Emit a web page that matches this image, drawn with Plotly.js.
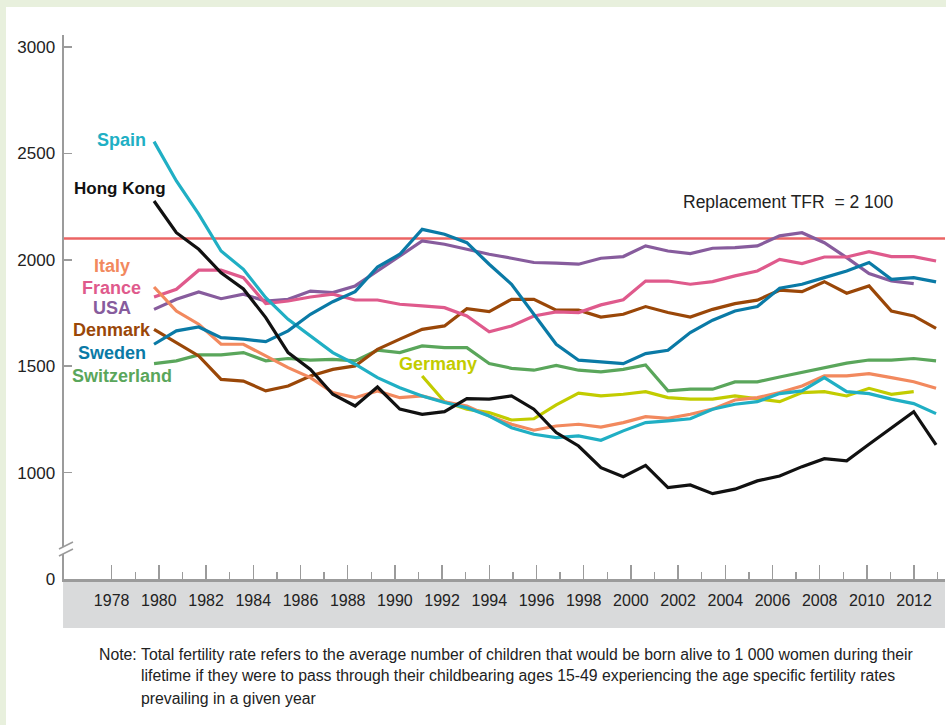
<!DOCTYPE html>
<html>
<head>
<meta charset="utf-8">
<script src="https://cdn.plot.ly/plotly-3.0.1.min.js"></script>
<style>
  html, body { margin: 0; padding: 0; background: #e8f0dd; width: 946px; height: 725px; overflow: hidden; }
  #chart { position: absolute; left: 6px; top: 7px; width: 940px; height: 718px; background: #ffffff; }
</style>
</head>
<body>
<div id="chart"></div>
<script>
// ---- data (total fertility rate per 1 000 women) ----
const years = [1978,1979,1980,1981,1982,1983,1984,1985,1986,1987,1988,1989,1990,1991,1992,1993,1994,1995,
               1996,1997,1998,1999,2000,2001,2002,2003,2004,2005,2006,2007,2008,2009,2010,2011,2012,2013];
const usaYears = [1978,1979,1980,1981,1982,1983,1984,1985,1986,1987,1988,1989,1990,1991,1992,1993,1994,1995,
                  1996,1997,1998,1999,2000,2001,2002,2003,2004,2005,2006,2007,2008,2009,2010,2011,2012];
const germanyYears = [1990,1991,1992,1993,1994,1995,1996,1997,1998,1999,2000,2001,2002,2003,2004,2005,2006,
                      2007,2008,2009,2010,2011,2012];

const hongKong = [2276,2127,2049,1939,1863,1728,1564,1485,1368,1313,1402,1298,1274,1286,1347,1345,1360,1298,
                  1188,1125,1023,981,1034,929,942,901,922,961,984,1028,1065,1055,1133,1211,1286,1130];
const spain = [2555,2370,2214,2041,1955,1822,1720,1642,1564,1509,1446,1399,1360,1329,1305,1266,1211,1180,
               1164,1172,1152,1196,1235,1243,1253,1298,1321,1333,1371,1384,1446,1380,1371,1345,1324,1277];
const italy = [1872,1759,1697,1603,1603,1548,1493,1446,1376,1352,1384,1352,1360,1333,1313,1266,1227,1199,
               1219,1227,1214,1235,1263,1255,1274,1298,1341,1352,1376,1407,1454,1454,1465,1446,1427,1396];
const france = [1825,1861,1951,1951,1916,1794,1806,1825,1838,1811,1811,1791,1783,1775,1736,1662,1689,1736,
                1755,1752,1788,1812,1900,1900,1885,1897,1924,1947,2002,1982,2013,2013,2038,2015,2015,1994];
const usa = [1767,1814,1849,1817,1838,1806,1814,1853,1846,1877,1947,2018,2088,2073,2049,2026,2007,1987,
             1984,1979,2007,2015,2065,2041,2029,2054,2057,2065,2112,2127,2080,2010,1935,1900,1888];
const denmark = [1673,1611,1548,1438,1430,1384,1407,1454,1485,1501,1579,1627,1673,1689,1770,1756,1814,1814,
                 1763,1763,1731,1744,1780,1752,1731,1767,1794,1810,1857,1850,1897,1843,1877,1759,1736,1678];
const sweden = [1603,1666,1684,1634,1627,1615,1666,1744,1803,1850,1966,2026,2143,2120,2080,1979,1885,1744,
                1603,1528,1520,1512,1559,1575,1658,1716,1759,1780,1866,1885,1916,1947,1987,1908,1916,1896];
const switzerland = [1512,1525,1553,1553,1564,1525,1536,1528,1532,1525,1575,1564,1595,1587,1587,1512,1490,1481,
                     1504,1481,1473,1485,1506,1384,1392,1392,1426,1426,1449,1470,1493,1514,1529,1528,1536,1525];
const germany = [1454,1333,1298,1282,1247,1253,1318,1373,1360,1368,1380,1352,1345,1345,1360,1345,1333,
                 1376,1380,1360,1396,1368,1380];

const replacementTFR = 2100;

// axis ticks
const xTickVals = [1978,1980,1982,1984,1986,1988,1990,1992,1994,1996,1998,2000,2002,2004,2006,2008,2010,2012];
const xTickText = ['1978','1980','1982','1984','1986','1988','1990','1992','1994','1996','1998','2000','2002','2004','2006','2008','2010','2012'];
const xMinorVals = [1979,1981,1983,1985,1987,1989,1991,1993,1995,1997,1999,2001,2003,2005,2007,2009,2011,2013];
const yTickVals = [500,1000,1500,2000,2500,3000];
const yTickText = ['0','1000','1500','2000','2500','3000'];

// ---- styling ----
const FONT = 'Liberation Sans Narrow, Arial Narrow, Liberation Sans, Arial, sans-serif';
const AXIS_GREY = '#9b9b9b';
const colors = {
  spain: '#20afc4', hongKong: '#111111', italy: '#f2895e', france: '#df5a8c', usa: '#875c9d',
  denmark: '#9a4708', sweden: '#0a7aa6', switzerland: '#5aa65b', germany: '#c2cc00'
};

function line(x, y, name, color) {
  return { type: 'scatter', mode: 'lines', x: x, y: y, name: name, xaxis: 'x', yaxis: 'y',
           line: { color: color, width: 3.2 }, hoverinfo: 'x+y+name' };
}

const traces = [
  line(years, switzerland, 'Switzerland', colors.switzerland),
  line(germanyYears, germany, 'Germany', colors.germany),
  line(years, denmark, 'Denmark', colors.denmark),
  line(usaYears, usa, 'USA', colors.usa),
  line(years, france, 'France', colors.france),
  line(years, italy, 'Italy', colors.italy),
  line(years, spain, 'Spain', colors.spain),
  line(years, sweden, 'Sweden', colors.sweden),
  line(years, hongKong, 'Hong Kong', colors.hongKong),
  { type: 'scatter', mode: 'lines', x: [], y: [], xaxis: 'x2', yaxis: 'y', showlegend: false, hoverinfo: 'skip' }
];

function label(text, x, y, color, xanchor, size) {
  return { text: text, x: x, y: y, xref: 'x', yref: 'y', xanchor: xanchor || 'center', yanchor: 'middle',
           showarrow: false, font: { family: FONT, size: size || 18, weight: 700, color: color } };
}
function note(text, x, y) {
  return { text: text, x: x, y: y, xref: 'paper', yref: 'paper', xanchor: 'left', yanchor: 'middle',
           showarrow: false, align: 'left', font: { family: FONT, size: 15.8, color: '#222222' } };
}

const layout = {
  width: 940, height: 718,
  margin: { l: 58, r: 1, t: 28, b: 146 },
  paper_bgcolor: '#ffffff', plot_bgcolor: '#ffffff',
  showlegend: false,
  xaxis: { range: [1973.97, 2013.40], visible: false, fixedrange: true },
  xaxis2: {
    overlaying: 'x', anchor: 'y', side: 'bottom',
    range: [1975.98, 2013.31],
    tickmode: 'array', tickvals: xTickVals, ticktext: xTickText,
    ticks: 'inside', ticklen: 14, tickwidth: 1.5, tickcolor: AXIS_GREY,
    minor: { tickmode: 'array', tickvals: xMinorVals, ticks: 'inside', ticklen: 7, tickwidth: 1.5, tickcolor: AXIS_GREY, showgrid: false },
    showline: true, linecolor: AXIS_GREY, linewidth: 2.5,
    showgrid: false, zeroline: false,
    tickfont: { family: FONT, size: 16, color: '#222222' },
    ticklabelstandoff: 5
  },
  yaxis: {
    range: [500, 3056],
    tickmode: 'array', tickvals: yTickVals, ticktext: yTickText,
    ticks: 'inside', ticklen: 8, tickwidth: 1.5, tickcolor: AXIS_GREY,
    showline: true, linecolor: AXIS_GREY, linewidth: 2.5,
    showgrid: false, zeroline: false,
    tickfont: { family: FONT, size: 17, color: '#222222' },
    ticklabelstandoff: 3
  },
  shapes: [
    // grey band behind the year labels
    { type: 'rect', xref: 'paper', yref: 'paper', x0: -0.0011, x1: 1, y0: 0, y1: -0.0901,
      fillcolor: '#d9dadb', line: { width: 0 }, layer: 'below' },
    // replacement level
    { type: 'line', xref: 'paper', yref: 'y', x0: 0, x1: 1, y0: replacementTFR, y1: replacementTFR,
      line: { color: '#eb6464', width: 2.6 }, layer: 'below' },
    // axis break
    { type: 'path', xref: 'paper', yref: 'paper',
      path: 'M -0.0057 0.0551 L 0.0102 0.0680 L 0.0102 0.0551 L -0.0057 0.0423 Z',
      fillcolor: '#ffffff', line: { width: 0 }, layer: 'above' },
    { type: 'line', xref: 'paper', yref: 'paper', x0: -0.0057, y0: 0.0551, x1: 0.0102, y1: 0.0680,
      line: { color: AXIS_GREY, width: 1.5 }, layer: 'above' },
    { type: 'line', xref: 'paper', yref: 'paper', x0: -0.0057, y0: 0.0423, x1: 0.0102, y1: 0.0551,
      line: { color: AXIS_GREY, width: 1.5 }, layer: 'above' }
  ],
  annotations: [
    label('Spain', 1977.73, 2563, colors.spain, 'right'),
    label('Hong Kong', 1978.63, 2337, colors.hongKong, 'right', 17),
    label('Italy', 1976.10, 1971, colors.italy),
    label('France', 1976.10, 1869, colors.france),
    label('USA', 1976.10, 1772, colors.usa),
    label('Denmark', 1976.10, 1670, colors.denmark),
    label('Sweden', 1976.10, 1563, colors.sweden),
    label('Switzerland', 1974.24, 1454, colors.switzerland, 'left'),
    label('Germany', 1990.71, 1512, colors.germany),
    { text: 'Replacement TFR  = 2 100', x: 2006.38, y: 2273, xref: 'x', yref: 'y', xanchor: 'center', yanchor: 'middle',
      showarrow: false, font: { family: FONT, size: 17.5, color: '#222222' } },
    note('Note:', 0.0375, -0.1379),
    note('Total fertility rate refers to the average number of children that would be born alive to 1 000 women during their', 0.0851, -0.1379),
    note('lifetime if they were to pass through their childbearing ages 15-49 experiencing the age specific fertility rates', 0.0851, -0.1783),
    note('prevailing in a given year', 0.0851, -0.2188)
  ]
};

Plotly.newPlot('chart', traces, layout, { displayModeBar: false, staticPlot: true });
</script>
</body>
</html>
